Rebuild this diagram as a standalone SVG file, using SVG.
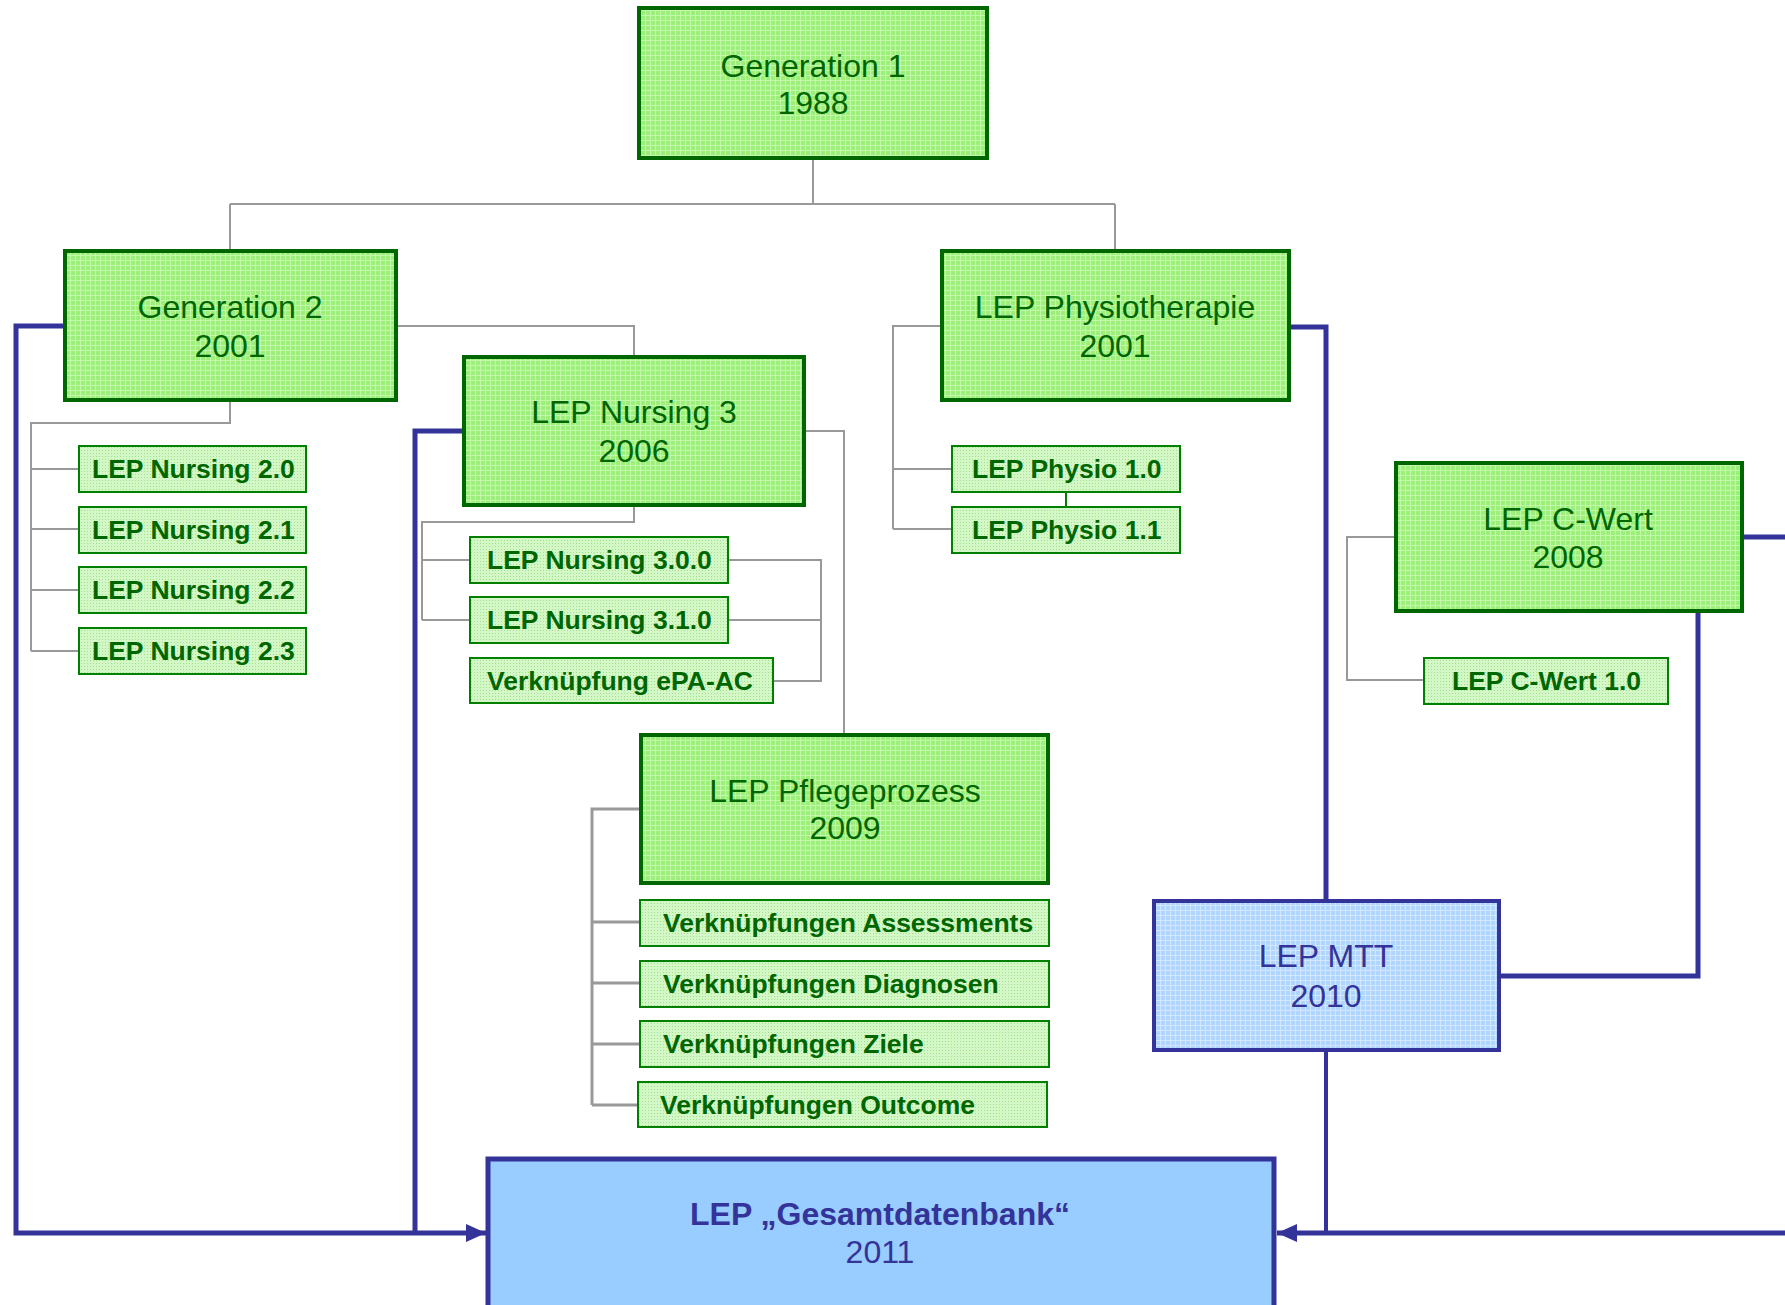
<svg xmlns="http://www.w3.org/2000/svg" width="1785" height="1305" viewBox="0 0 1785 1305">
<style>
.main{stroke:#006600;stroke-width:4;fill:url(#pg)}
.sub{stroke:#008000;stroke-width:2;fill:url(#ps)}
.mt{font-family:"Liberation Sans",Arial,sans-serif;font-size:32px;fill:#006600;text-anchor:middle}
.st{font-family:"Liberation Sans",Arial,sans-serif;font-size:26.5px;font-weight:bold;fill:#006600}
.bt{font-family:"Liberation Sans",Arial,sans-serif;font-size:32px;fill:#333399;text-anchor:middle}
.grey{fill:none;stroke:#999999;stroke-width:2}
.blue{fill:none;stroke:#333399;stroke-width:5}
</style>
<defs>
<pattern id="pg" width="5" height="5" patternUnits="userSpaceOnUse">
<rect width="5" height="5" fill="#9cf07a"/>
<path d="M0,0.5H5M0.5,0V5" stroke="#c2f8aa" stroke-width="1"/>
</pattern>
<pattern id="ps" width="3" height="3" patternUnits="userSpaceOnUse">
<rect width="3" height="3" fill="#d4f7c8"/>
<rect width="1" height="1" fill="#9ee486"/>
</pattern>
<pattern id="pb" width="5" height="5" patternUnits="userSpaceOnUse">
<rect width="5" height="5" fill="#b0d6ff"/>
<path d="M0,0.5H5M0.5,0V5" stroke="#d2e8ff" stroke-width="1"/>
</pattern>
<marker id="arr" markerUnits="userSpaceOnUse" markerWidth="20" markerHeight="18" refX="20" refY="9" orient="auto">
<path d="M0,0 L20,9 L0,18 z" fill="#333399"/>
</marker>
</defs>
<rect width="1785" height="1305" fill="#ffffff"/>
<g id="connectors">
<path class="grey" d="M813,159V204M230,204H1115M230,204V249M1115,204V249"/>
<path class="grey" d="M398,326H634V355"/>
<path class="grey" d="M230,402V423H31V651M31,469H79M31,529H79M31,590H79M31,651H79"/>
<path class="grey" d="M634,507V522H422V620M422,560H470M422,620H470"/>
<path class="grey" d="M728,560H821V681H773M728,620H821"/>
<path class="grey" d="M806,431H844V733"/>
<path class="grey" style="stroke-width:3" d="M639,809H592V1105M592,922H640M592,983H640M592,1044H640M592,1105H638"/>
<path class="grey" d="M940,326H893V529M893,469H952M893,529H952"/>
<path d="M1066,492V507" stroke="#008000" stroke-width="2"/>
<path class="grey" d="M1394,537H1347V680H1424"/>
<path class="blue" d="M63,326H16V1233H486" marker-end="url(#arr)"/>
<path class="blue" d="M462,431H415V1233"/>
<path class="blue" d="M1291,327H1326V899"/>
<path class="blue" d="M1744,537H1785"/>
<path class="blue" d="M1698,613V976H1501"/>
<path class="blue" style="stroke-width:4" d="M1326,1052V1233"/>
<path class="blue" d="M1785,1233H1277" marker-end="url(#arr)"/>
</g>
<g id="gen1"><rect class="main" x="639" y="8" width="348" height="150"/>
<text class="mt" x="813" y="77">Generation 1</text><text class="mt" x="813" y="114">1988</text></g>
<g id="gen2"><rect class="main" x="65" y="251" width="331" height="149"/>
<text class="mt" x="230" y="318">Generation 2</text><text class="mt" x="230" y="357">2001</text></g>
<g id="nursing3"><rect class="main" x="464" y="357" width="340" height="148"/>
<text class="mt" x="634" y="423">LEP Nursing 3</text><text class="mt" x="634" y="462">2006</text></g>
<g id="physio"><rect class="main" x="942" y="251" width="347" height="149"/>
<text class="mt" x="1115" y="318">LEP Physiotherapie</text><text class="mt" x="1115" y="357">2001</text></g>
<g id="cwert"><rect class="main" x="1396" y="463" width="346" height="148"/>
<text class="mt" x="1568" y="530">LEP C-Wert</text><text class="mt" x="1568" y="568">2008</text></g>
<g id="pflege"><rect class="main" x="641" y="735" width="407" height="148"/>
<text class="mt" x="845" y="802">LEP Pflegeprozess</text><text class="mt" x="845" y="839">2009</text></g>
<g id="n20"><rect class="sub" x="79" y="446" width="227" height="46"/><text class="st" x="92" y="478">LEP Nursing 2.0</text></g>
<g id="n21"><rect class="sub" x="79" y="507" width="227" height="46"/><text class="st" x="92" y="539">LEP Nursing 2.1</text></g>
<g id="n22"><rect class="sub" x="79" y="567" width="227" height="46"/><text class="st" x="92" y="599">LEP Nursing 2.2</text></g>
<g id="n23"><rect class="sub" x="79" y="628" width="227" height="46"/><text class="st" x="92" y="660">LEP Nursing 2.3</text></g>
<g id="n300"><rect class="sub" x="470" y="537" width="258" height="46"/><text class="st" x="487" y="569">LEP Nursing 3.0.0</text></g>
<g id="n310"><rect class="sub" x="470" y="597" width="258" height="46"/><text class="st" x="487" y="629">LEP Nursing 3.1.0</text></g>
<g id="epa"><rect class="sub" x="470" y="658" width="303" height="45"/><text class="st" x="487" y="690">Verknüpfung ePA-AC</text></g>
<g id="p10"><rect class="sub" x="952" y="446" width="228" height="46"/><text class="st" x="972" y="478">LEP Physio 1.0</text></g>
<g id="p11"><rect class="sub" x="952" y="507" width="228" height="46"/><text class="st" x="972" y="539">LEP Physio 1.1</text></g>
<g id="cw10"><rect class="sub" x="1424" y="658" width="244" height="46"/><text class="st" x="1452" y="690">LEP C-Wert 1.0</text></g>
<g id="vass"><rect class="sub" x="640" y="900" width="409" height="46"/><text class="st" x="663" y="932">Verknüpfungen Assessments</text></g>
<g id="vdia"><rect class="sub" x="640" y="961" width="409" height="46"/><text class="st" x="663" y="993">Verknüpfungen Diagnosen</text></g>
<g id="vzie"><rect class="sub" x="640" y="1021" width="409" height="46"/><text class="st" x="663" y="1053">Verknüpfungen Ziele</text></g>
<g id="vout"><rect class="sub" x="638" y="1082" width="409" height="45"/><text class="st" x="660" y="1114">Verknüpfungen Outcome</text></g>
<g id="mtt"><rect x="1154" y="901" width="345" height="149" fill="url(#pb)" stroke="#333399" stroke-width="4"/>
<text class="bt" x="1326" y="967">LEP MTT</text><text class="bt" x="1326" y="1007">2010</text></g>
<g id="gesamt"><rect x="488" y="1159" width="786" height="160" fill="#99ccff" stroke="#333399" stroke-width="5"/>
<text class="bt" x="880" y="1225" font-weight="bold">LEP „Gesamtdatenbank“</text><text class="bt" x="880" y="1263">2011</text></g>
</svg>
